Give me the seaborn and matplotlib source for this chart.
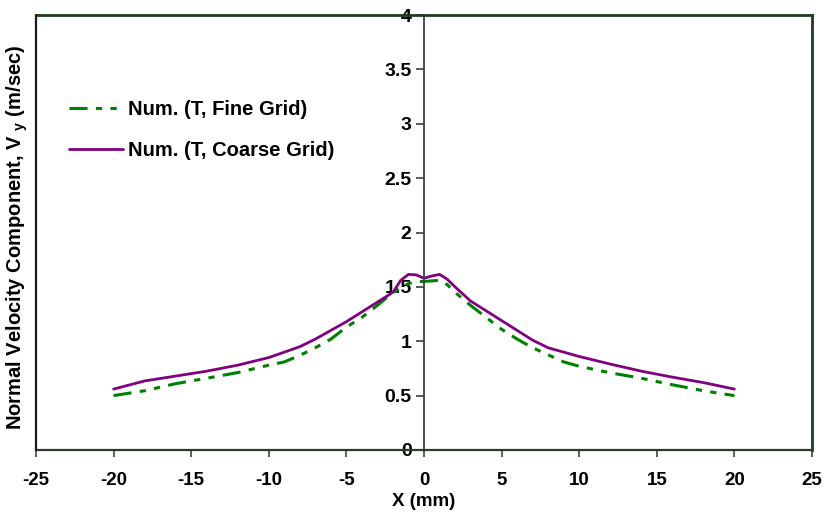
import numpy as np
import pandas as pd
import matplotlib
matplotlib.use("Agg")
import matplotlib.pyplot as plt
from matplotlib import font_manager
import seaborn as sns

# Normal velocity profiles along X (mm)
x_coarse = [-20, -18, -16, -14, -12, -10, -8, -7, -6, -5, -4, -3, -2, -1.5, -1, -0.5,
            0, 0.5, 1, 1.5, 2, 3, 4, 5, 6, 7, 8, 10, 12, 14, 16, 18, 20]
v_coarse = [0.56, 0.635, 0.68, 0.725, 0.78, 0.85, 0.95, 1.02, 1.10, 1.18, 1.27, 1.36,
            1.45, 1.56, 1.615, 1.61, 1.58, 1.60, 1.615, 1.57, 1.50, 1.37, 1.28, 1.19,
            1.10, 1.01, 0.94, 0.86, 0.79, 0.725, 0.67, 0.62, 0.56]

x_fine = [-20, -18, -16, -14, -12, -10, -9, -8, -7, -6, -5, -4, -3, -2, -1.5, -1, -0.5,
          0, 0.5, 1, 1.5, 2, 3, 4, 5, 6, 7, 8, 9, 10, 12, 14, 16, 18, 20]
v_fine = [0.50, 0.545, 0.61, 0.66, 0.712, 0.78, 0.81, 0.87, 0.94, 1.02, 1.13, 1.22,
          1.33, 1.45, 1.49, 1.53, 1.55, 1.55, 1.555, 1.56, 1.52, 1.45, 1.33, 1.22,
          1.11, 1.02, 0.94, 0.875, 0.81, 0.77, 0.71, 0.66, 0.60, 0.545, 0.50]

label_fine = "Num. (T, Fine Grid)"
label_coarse = "Num. (T, Coarse Grid)"

x_ticks = [-25, -20, -15, -10, -5, 0, 5, 10, 15, 20, 25]
y_ticks = [0, 0.5, 1, 1.5, 2, 2.5, 3, 3.5, 4]
y_ticklabels = ["0", "0.5", "1", "1.5", "2", "2.5", "3", "3.5", "4"]

sns.set_theme(style="white")
installed = {f.name for f in font_manager.fontManager.ttflist}
main_font = "Liberation Sans" if "Liberation Sans" in installed else "DejaVu Sans"
plt.rcParams["font.family"] = [main_font, "DejaVu Sans"]
plt.rcParams["mathtext.fontset"] = "custom"
plt.rcParams["mathtext.bf"] = f"{main_font}:bold"
plt.rcParams["mathtext.rm"] = f"{main_font}:bold"
plt.rcParams["lines.scale_dashes"] = False
for key in ("text.color", "axes.labelcolor", "xtick.labelcolor", "ytick.labelcolor"):
    plt.rcParams[key] = "black"

fig = plt.figure(figsize=(8.24, 5.12), dpi=100)
ax = fig.add_axes([36 / 824, 62 / 512, 776 / 824, 435 / 512])

df_fine = pd.DataFrame({"x": x_fine, "v": v_fine})
df_coarse = pd.DataFrame({"x": x_coarse, "v": v_coarse})

sns.lineplot(data=df_fine, x="x", y="v", ax=ax, color="#008000", lw=2.2,
             label=label_fine, estimator=None)
sns.lineplot(data=df_coarse, x="x", y="v", ax=ax, color="#800080", lw=2.0,
             label=label_coarse, estimator=None)
ax.lines[0].set_dashes([13, 6, 4.5, 6, 4.5, 6])

ax.set_xlim(-25, 25)
ax.set_ylim(0, 4)

# y axis runs through X = 0; the frame keeps its own left edge
ax.spines["left"].set_position(("data", 0))
ax.spines["left"].set_color("#404040")
ax.spines["left"].set_linewidth(1.3)
ax.axvline(-25, color="#1a1a1a", lw=1.6, clip_on=False, zorder=3)
for side in ("top", "right"):
    ax.spines[side].set_color("#1f3b1f")
    ax.spines[side].set_linewidth(2.0)
ax.spines["bottom"].set_color("#2f3a2f")
ax.spines["bottom"].set_linewidth(1.6)

ax.set_xticks(x_ticks)
ax.set_xticklabels([str(t) for t in x_ticks], fontweight="bold", fontsize=13.5,
                   color="black")
ax.set_yticks(y_ticks)
ax.set_yticklabels(y_ticklabels, fontweight="bold", fontsize=14, color="black")
ax.tick_params(axis="x", direction="out", length=5, width=1.2, color="#404040", pad=11,
               bottom=True)
ax.tick_params(axis="y", direction="out", length=6, width=1.2, color="#404040", pad=3,
               left=True)

ax.set_xlabel("X (mm)", fontweight="bold", fontsize=13.5, labelpad=3, color="black")
ax.set_ylabel(r"Normal Velocity Component, V $_{\mathbf{y}}$ (m/sec)",
              fontweight="bold", fontsize=14.5, color="black")
ax.yaxis.set_label_coords(-0.008, 0.49)

leg = ax.legend(loc="upper left", bbox_to_anchor=(0.0425, 0.805), frameon=False,
                fontsize=14.5, handlelength=2.7, handletextpad=0.25, labelspacing=1.1,
                borderaxespad=0, borderpad=0)
for t in leg.get_texts():
    t.set_fontweight("bold")
    t.set_color("black")

fig.savefig("out.png", dpi=100)
